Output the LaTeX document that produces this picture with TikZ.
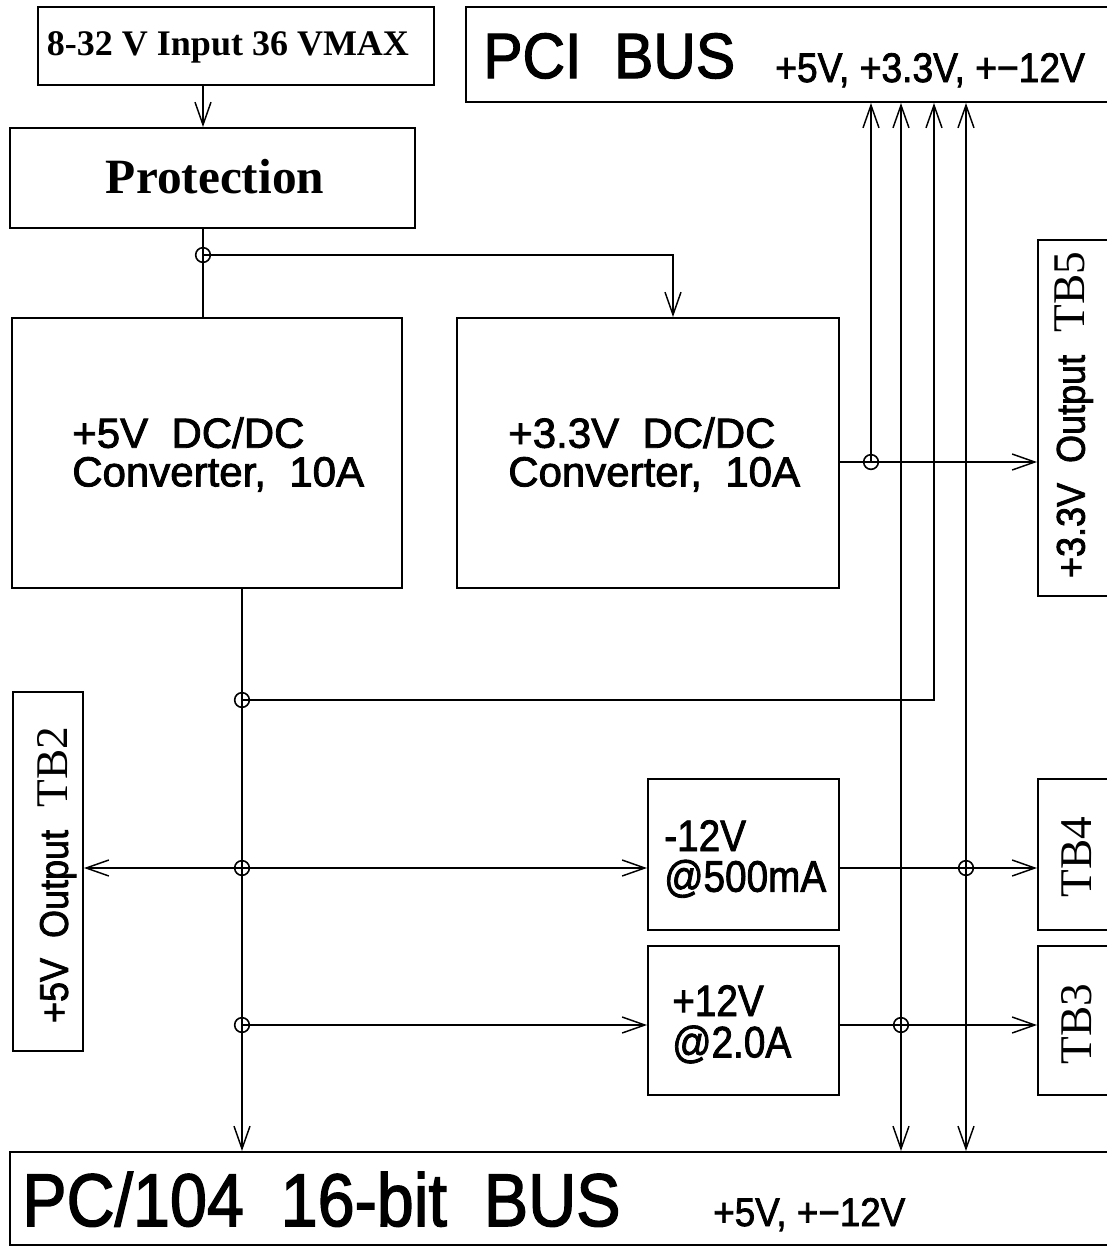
\documentclass[tikz,border=0pt]{standalone}
\usepackage{fontspec}
\setmainfont{Liberation Serif}
\setsansfont{Liberation Sans}
\newfontfamily\hsf{Liberation Sans}[FakeBold=2]
\usetikzlibrary{arrows.meta,fit}
\newcommand\sqz[2]{\scalebox{#1}[1]{#2}}
\begin{document}
\begin{tikzpicture}[x=0.75pt,y=-0.75pt,
  box/.style={draw,line width=1.5pt,inner sep=0pt},
  wire/.style={line width=1.3pt},
  jn/.style={circle,draw,line width=1.2pt,minimum size=11pt,inner sep=0pt},
  txt/.style={inner sep=0pt,anchor=base west},
  two/.style={inner sep=0pt,anchor=north west,align=left},
  >={Straight Barb[length=17pt,width=12pt,line width=1.1pt]}]
\clip (0,0) rectangle (1107,1247);
\fill[white] (0,0) rectangle (1107,1247);
% boxes
\node[box,fit={(38,7) (434,85)}] (inp) {};
\node[box,fit={(10,128) (415,228)}] (pro) {};
\node[box,fit={(466,7) (1115,102)}] (pci) {};
\node[box,fit={(12,318) (402,588)}] (c5) {};
\node[box,fit={(457,318) (839,588)}] (c33) {};
\node[box,fit={(1038,240) (1115,596)}] (tb5) {};
\node[box,fit={(13,692) (83,1051)}] (tb2) {};
\node[box,fit={(648,779) (839,930)}] (m12) {};
\node[box,fit={(648,946) (839,1095)}] (p12) {};
\node[box,fit={(1038,779) (1115,930)}] (tb4) {};
\node[box,fit={(1038,946) (1115,1095)}] (tb3) {};
\node[box,fit={(10,1152) (1115,1245)}] (pc) {};
% texts
\node[font=\rmfamily\bfseries\fontsize{27}{27}\selectfont] (tinp) at (228,47) {8-32 V Input 36 VMAX};
\node[font=\rmfamily\bfseries\fontsize{37}{37}\selectfont] (tpro) at (215,177) {Protection};
\node[txt,font=\hsf\fontsize{48}{48}\selectfont] (tpci) at (483,78) {\sqz{0.92}{PCI\ \ BUS}};
\node[txt,font=\hsf\fontsize{31}{31}\selectfont] (tpciv) at (775,82) {\sqz{0.9}{+5V,\ +3.3V,\ +−12V}};
\node[txt,font=\hsf\fontsize{56}{56}\selectfont] (tpc) at (22,1226) {\sqz{0.89}{PC/104\ \ 16-bit\ \ BUS}};
\node[txt,font=\hsf\fontsize{30}{30}\selectfont] (tpcv) at (713,1226) {\sqz{0.92}{+5V,\ +−12V}};
\node[two,font=\hsf\fontsize{31.5}{29}\selectfont] (t5) at (72,417) {+5V\ \ DC/DC\\Converter,\ \ 10A};
\node[two,font=\hsf\fontsize{31.5}{29}\selectfont] (t33) at (508,417) {+3.3V\ \ DC/DC\\Converter,\ \ 10A};
\node[two,font=\hsf\fontsize{33}{30.5}\selectfont] (tm12) at (664,820) {\sqz{0.88}{-12V}\\\sqz{0.88}{@500mA}};
\node[two,font=\hsf\fontsize{33}{31}\selectfont] (tp12) at (672,985) {\sqz{0.88}{+12V}\\\sqz{0.88}{@2.0A}};
\node[rotate=90,inner sep=0pt] (ttb2) at (57,875) {\hsf\fontsize{30}{30}\selectfont\sqz{0.9}{+5V\ \ Output}\ \ \rmfamily\fontsize{34}{34}\selectfont TB2};
\node[rotate=90,inner sep=0pt] (ttb5) at (1074,415) {\hsf\fontsize{30}{30}\selectfont\sqz{0.9}{+3.3V\ \ Output}\ \ \rmfamily\fontsize{34}{34}\selectfont TB5};
\node[rotate=90,inner sep=0pt,font=\rmfamily\fontsize{34}{34}\selectfont] (ttb4) at (1077,857) {TB4};
\node[rotate=90,inner sep=0pt,font=\rmfamily\fontsize{34}{34}\selectfont] (ttb3) at (1077,1024) {TB3};
% junctions
\node[jn] (j1) at (203,255) {};
\node[jn] (j2) at (871,462) {};
\node[jn] (j3) at (242,700) {};
\node[jn] (j4) at (242,868) {};
\node[jn] (j5) at (242,1025) {};
\node[jn] (j6) at (966,868) {};
\node[jn] (j7) at (901,1025) {};
% connectors
\draw[wire,->] (inp.south -| j1) -- (pro.north -| j1);
\draw[wire] (pro.south -| j1) -- (c5.north -| j1);
\draw[wire,->] (j1.center) -- (j1.center -| 673,0) -- (c33.north -| 673,0);
\draw[wire,->] (c33.east |- j2) -- (tb5.west |- j2);
\draw[wire,->] (j2.center) -- (pci.south -| j2);
\draw[wire,<->] (pci.south -| j7) -- (pc.north -| j7);
\draw[wire,->] (j3.center) -- (j3.center -| 934,0) -- (pci.south -| 934,0);
\draw[wire,<->] (pci.south -| j6) -- (pc.north -| j6);
\draw[wire,->] (c5.south -| j3) -- (pc.north -| j3);
\draw[wire,<->] (tb2.east |- j4) -- (m12.west |- j4);
\draw[wire,->] (j5.center) -- (p12.west |- j5);
\draw[wire,->] (m12.east |- j6) -- (tb4.west |- j6);
\draw[wire,->] (p12.east |- j7) -- (tb3.west |- j7);
\end{tikzpicture}
\end{document}
